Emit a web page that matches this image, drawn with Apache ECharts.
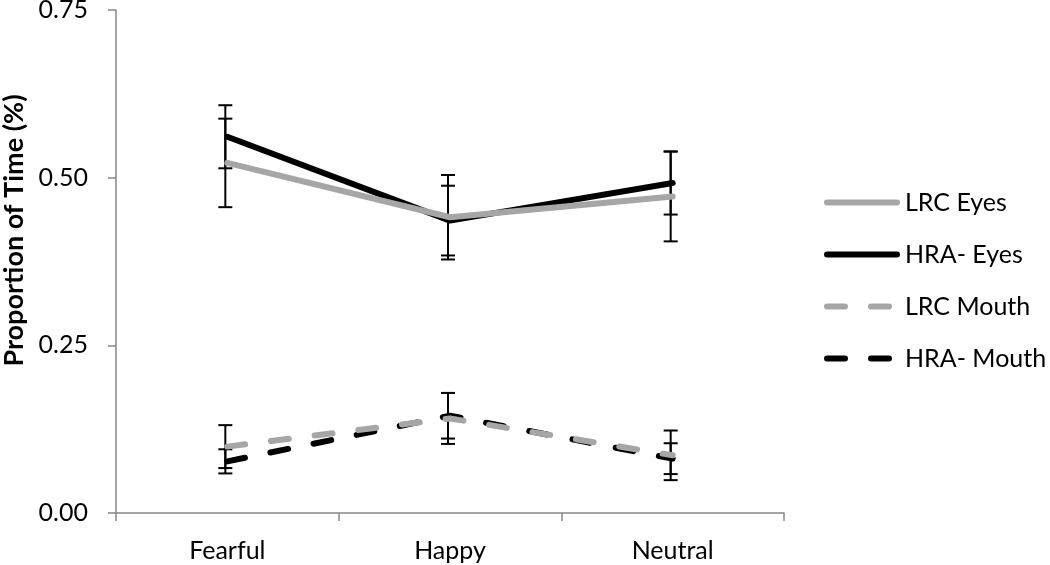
<!DOCTYPE html>
<html><head><meta charset="utf-8">
<script src="https://cdn.jsdelivr.net/npm/echarts@6/dist/echarts.min.js"></script>
<style>html,body{margin:0;padding:0;background:#fff}#c{width:1050px;height:565px}</style>
</head><body><div id="c"></div>
<script>
var categories = ['Fearful', 'Happy', 'Neutral'];
var yTicks = [0, 0.25, 0.5, 0.75];
var lrcEyes = [0.522, 0.441, 0.472];
var lrcEyesErr = [0.066, 0.063, 0.067];
var hraEyes = [0.561, 0.436, 0.492];
var hraEyesErr = [0.047, 0.052, 0.047];
var lrcMouth = [0.099, 0.141, 0.086];
var lrcMouthErr = [0.032, 0.038, 0.037];
var hraMouth = [0.077, 0.145, 0.081];
var hraMouthErr = [0.018, 0.034, 0.023];

var FONT = 'Lato, "Open Sans", sans-serif';
var GRAY = '#a6a6a6';
var AXIS = '#868686';

function errData(vals, errs) {
  return vals.map(function (v, i) { return [i, v - errs[i], v + errs[i]]; });
}
function errRender(params, api) {
  var x = api.value(0);
  var lo = api.coord([x, api.value(1)]);
  var hi = api.coord([x, api.value(2)]);
  var hw = 7, dx = -2;
  var st = { stroke: '#000', lineWidth: 2 };
  return {
    type: 'group',
    children: [
      { type: 'line', shape: { x1: lo[0] + dx, y1: lo[1], x2: hi[0] + dx, y2: hi[1] }, style: st },
      { type: 'line', shape: { x1: lo[0] + dx - hw, y1: lo[1], x2: lo[0] + dx + hw, y2: lo[1] }, style: st },
      { type: 'line', shape: { x1: hi[0] + dx - hw, y1: hi[1], x2: hi[0] + dx + hw, y2: hi[1] }, style: st }
    ]
  };
}
function errSeries(vals, errs) {
  return {
    type: 'custom', renderItem: errRender, data: errData(vals, errs),
    encode: { x: 0, y: [1, 2] }, z: 1, silent: true
  };
}
function lineSeries(name, vals, color, dashed) {
  return {
    name: name, type: 'line', data: vals, symbol: 'none', z: 3,
    lineStyle: { color: color, width: 6, type: dashed ? [18, 26] : 'solid', cap: 'round', join: 'round' },
    itemStyle: { color: color }
  };
}

var chart = echarts.init(document.getElementById('c'));
chart.setOption({
  animation: false,
  backgroundColor: '#fff',
  grid: { left: 116, right: 266, top: 10, bottom: 52, outerBoundsMode: 'none', containLabel: false },
  legend: {
    orient: 'vertical', left: 824, top: 190, padding: 0, itemGap: 27,
    itemWidth: 70, itemHeight: 26,
    itemStyle: { opacity: 0 },
    lineStyle: { width: 6, cap: 'round' },
    textStyle: { fontFamily: FONT, fontSize: 25, color: '#000', padding: [0, 0, 0, 3] },
    data: ['LRC Eyes', 'HRA- Eyes', 'LRC Mouth', 'HRA- Mouth']
  },
  xAxis: {
    type: 'category', data: categories, boundaryGap: true,
    axisLine: { lineStyle: { color: AXIS, width: 1.5 } },
    axisTick: { show: true, length: 8, lineStyle: { color: AXIS, width: 1.5 } },
    axisLabel: { fontFamily: FONT, fontSize: 25, color: '#000', margin: 25 },
    splitLine: { show: false }
  },
  yAxis: {
    type: 'value', min: 0, max: 0.75, interval: 0.25,
    name: 'Proportion of Time (%)', nameLocation: 'middle', nameGap: 88,
    nameTextStyle: { fontFamily: FONT, fontSize: 27, fontWeight: 'bold', color: '#000', padding: [0, 0, 0, 62] },
    axisLine: { show: true, lineStyle: { color: AXIS, width: 1.5 } },
    axisTick: { show: true, length: 8, lineStyle: { color: AXIS, width: 1.5 } },
    axisLabel: { fontFamily: FONT, fontSize: 25, color: '#000', margin: 28,
      formatter: function (v) { return v.toFixed(2); } },
    splitLine: { show: false }
  },
  series: [
    lineSeries('HRA- Eyes', hraEyes, '#000', false),
    lineSeries('LRC Eyes', lrcEyes, GRAY, false),
    lineSeries('HRA- Mouth', hraMouth, '#000', true),
    lineSeries('LRC Mouth', lrcMouth, GRAY, true),
    errSeries(lrcEyes, lrcEyesErr),
    errSeries(hraEyes, hraEyesErr),
    errSeries(lrcMouth, lrcMouthErr),
    errSeries(hraMouth, hraMouthErr)
  ]
});
</script></body></html>
